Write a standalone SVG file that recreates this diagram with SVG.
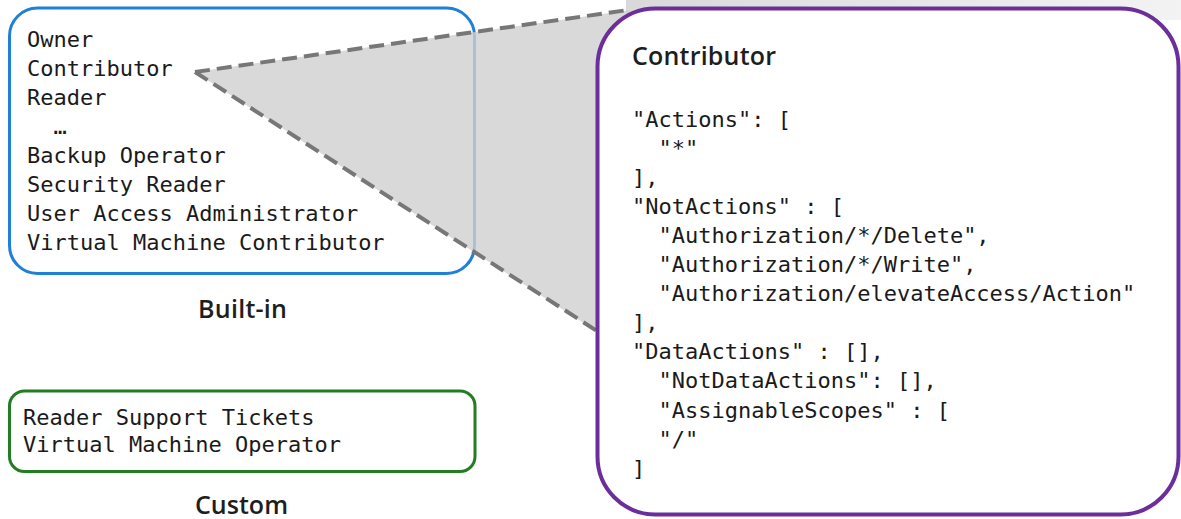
<svg xmlns="http://www.w3.org/2000/svg" width="1181" height="519" viewBox="0 0 1181 519">
<defs>
<linearGradient id="strip" x1="0" y1="0" x2="1" y2="0">
<stop offset="0" stop-color="#d9d9d9"/>
<stop offset="1" stop-color="#f3f3f3"/>
</linearGradient>
<style>
.mono{font-family:"DejaVu Sans Mono","Liberation Mono",monospace;font-size:22px;fill:#1a1a1a;white-space:pre}
.lbl{font-family:"Open Sans","Noto Sans",sans-serif;font-weight:600;font-size:25px;fill:#1e1e1e}
.dash{fill:none;stroke:#777;stroke-width:4;stroke-dasharray:15 7}
</style>
</defs>
<rect x="0" y="0" width="1181" height="519" fill="#fff"/>
<g id="builtin">
<rect x="9.5" y="8" width="465" height="265.5" rx="28" fill="#fff" stroke="#1f80d6" stroke-width="3"/>
</g>
<g id="connectors">
<rect x="626" y="0" width="555" height="20" fill="url(#strip)"/>
<polygon points="195,72 630,10 630,335 596,331" fill="#d0d0d0" fill-opacity="0.8"/>
<line class="dash" x1="195" y1="72" x2="628" y2="10"/>
<line class="dash" x1="195" y1="72" x2="597" y2="331"/>
</g>
<g id="builtin-text">
<text class="mono" x="27" y="46.5">Owner</text>
<text class="mono" x="27" y="75.5">Contributor</text>
<text class="mono" x="27" y="104.5">Reader</text>
<text class="mono" x="27" y="133.5">  …</text>
<text class="mono" x="27" y="162.5">Backup Operator</text>
<text class="mono" x="27" y="191.5">Security Reader</text>
<text class="mono" x="27" y="220.5">User Access Administrator</text>
<text class="mono" x="27" y="249.5">Virtual Machine Contributor</text>
<text class="lbl" x="242.5" y="318.3" text-anchor="middle" textLength="89">Built-in</text>
</g>
<g id="custom">
<rect x="9.5" y="391" width="465.5" height="80.5" rx="15" fill="#fff" stroke="#237d23" stroke-width="3"/>
<text class="mono" x="23" y="425">Reader Support Tickets</text>
<text class="mono" x="23" y="452">Virtual Machine Operator</text>
<text class="lbl" x="241.5" y="514" text-anchor="middle" textLength="93">Custom</text>
</g>
<g id="contributor">
<rect x="597.5" y="8.5" width="581" height="506" rx="58" fill="#fff" stroke="#6b2e9c" stroke-width="4"/>
<text class="lbl" x="632" y="65" textLength="144">Contributor</text>
<text class="mono" x="632" y="126.5">"Actions": [</text>
<text class="mono" x="632" y="155.6">  "*"</text>
<text class="mono" x="632" y="184.7">],</text>
<text class="mono" x="632" y="213.8">"NotActions" : [</text>
<text class="mono" x="632" y="242.9">  "Authorization/*/Delete",</text>
<text class="mono" x="632" y="272">  "Authorization/*/Write",</text>
<text class="mono" x="632" y="301.1">  "Authorization/elevateAccess/Action"</text>
<text class="mono" x="632" y="330.2">],</text>
<text class="mono" x="632" y="359.3">"DataActions" : [],</text>
<text class="mono" x="632" y="388.4">  "NotDataActions": [],</text>
<text class="mono" x="632" y="417.5">  "AssignableScopes" : [</text>
<text class="mono" x="632" y="446.6">  "/"</text>
<text class="mono" x="632" y="475.7">]</text>
</g>
</svg>
